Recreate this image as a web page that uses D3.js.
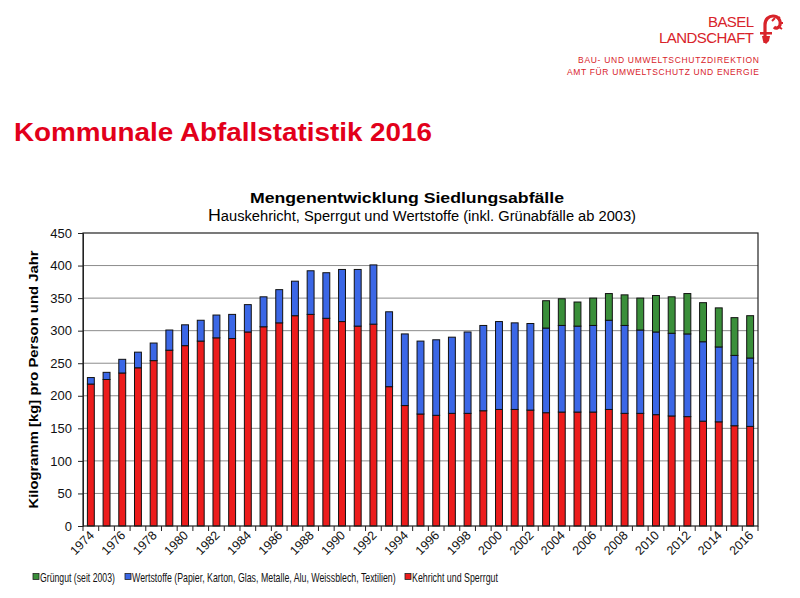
<!DOCTYPE html>
<html>
<head>
<meta charset="utf-8">
<script src="https://cdn.jsdelivr.net/npm/d3@7"></script>
<style>
  body { margin: 0; background: #fff; }
  svg { display: block; font-family: Arial, "Liberation Sans", sans-serif; }
</style>
</head>
<body>
<div id="chart"></div>
<script>
// values (kg per person and year)
var years = d3.range(1974, 2017);
var kehricht = [218, 225, 235, 243, 254, 270, 277, 284, 289, 288, 298, 306, 312, 323, 325, 319, 314, 307, 310, 214,
                185, 172, 170, 173, 173, 177, 179, 179, 178, 174, 175, 175, 175, 179, 173, 173, 171, 169, 168, 161,
                160, 154, 153];
var wertstoffe = [10, 11, 21, 24, 27, 31, 32, 32, 35, 37, 42, 46, 51, 53, 67, 70, 80, 87, 91, 115,
                  110, 112, 116, 117, 125, 131, 135, 133, 133, 130, 133, 132, 133, 137, 135, 128, 127, 127, 127, 122,
                  115, 108, 105];
var gruengut = [0, 0, 0, 0, 0, 0, 0, 0, 0, 0, 0, 0, 0, 0, 0, 0, 0, 0, 0, 0,
                0, 0, 0, 0, 0, 0, 0, 0, 0, 42, 41, 37, 42, 41, 47, 49, 56, 56, 62, 60,
                60, 58, 65];
var yTicks = [0, 50, 100, 150, 200, 250, 300, 350, 400, 450];
var seriesKeys = ["kehricht", "wertstoffe", "gruengut"];
var seriesColors = {kehricht: "#ec1c1c", wertstoffe: "#3b67e6", gruengut: "#3a8f3a"};
var legendItems = [
  {key: "gruengut", label: "Grüngut (seit 2003)", x: 33, w: 75},
  {key: "wertstoffe", label: "Wertstoffe (Papier, Karton, Glas, Metalle, Alu, Weissblech, Textilien)", x: 125, w: 264},
  {key: "kehricht", label: "Kehricht und Sperrgut", x: 405, w: 86}
];

var table = years.map(function(y, i) {
  return {year: y, kehricht: kehricht[i], wertstoffe: wertstoffe[i], gruengut: gruengut[i]};
});

var width = 800, height = 598;
var plot = {left: 83, right: 758, top: 233, bottom: 526};
var red = "#e2001a";

var svg = d3.select("#chart").append("svg")
  .attr("width", width)
  .attr("height", height);

// ---- header / logo
var logo = svg.append("g").attr("fill", "#d8232a");
logo.append("text").attr("x", 754).attr("y", 27).attr("text-anchor", "end")
  .attr("font-size", 15).attr("textLength", 46).text("BASEL");
logo.append("text").attr("x", 754).attr("y", 43).attr("text-anchor", "end")
  .attr("font-size", 15).attr("textLength", 95).text("LANDSCHAFT");
logo.append("text").attr("x", 759).attr("y", 63).attr("text-anchor", "end")
  .attr("font-size", 8.5).attr("textLength", 181).text("BAU- UND UMWELTSCHUTZDIREKTION");
logo.append("text").attr("x", 759).attr("y", 75).attr("text-anchor", "end")
  .attr("font-size", 8.5).attr("textLength", 192).text("AMT FÜR UMWELTSCHUTZ UND ENERGIE");

// the staff
var staff = svg.append("g").attr("transform", "translate(760,15)");
staff.append("path")
  .attr("d", "M5,28 L5,10 C5,4 9,1 13,1 C18,1 21,5 20,10 C19,13 16,14 14,12")
  .attr("fill", "none").attr("stroke", "#d8232a").attr("stroke-width", 3.2);
staff.append("path")
  .attr("d", "M12,6 l3,-3 M17,4 l3,-2 M20,8 l3,0 M19,12 l3,2")
  .attr("stroke", "#d8232a").attr("stroke-width", 2);
staff.append("rect").attr("x", 0).attr("y", 17).attr("width", 12).attr("height", 2.5).attr("fill", "#d8232a");
staff.append("path").attr("d", "M2,21 L10,21 L9,26 L6,29 L3,26 Z").attr("fill", "#d8232a");

svg.append("text")
  .attr("x", 14).attr("y", 141)
  .attr("font-size", 26).attr("font-weight", "bold")
  .attr("fill", red).attr("textLength", 418).attr("lengthAdjust", "spacingAndGlyphs")
  .text("Kommunale Abfallstatistik 2016");

// ---- chart titles
svg.append("text")
  .attr("x", 407).attr("y", 203).attr("text-anchor", "middle")
  .attr("font-size", 15).attr("font-weight", "bold")
  .attr("textLength", 314).attr("lengthAdjust", "spacingAndGlyphs")
  .text("Mengenentwicklung  Siedlungsabfälle");
var sub = svg.append("text")
  .attr("x", 422).attr("y", 221).attr("text-anchor", "middle")
  .attr("font-size", 14)
  .attr("textLength", 428).attr("lengthAdjust", "spacingAndGlyphs");
sub.append("tspan").attr("font-size", 17).text("H");
sub.append("tspan").text("auskehricht, Sperrgut und Wertstoffe (inkl. Grünabfälle ab 2003)");

// ---- scales
var x = d3.scaleBand()
  .domain(years)
  .range([plot.left, plot.right])
  .paddingInner(0.56)
  .paddingOuter(0.28);
var y = d3.scaleLinear().domain([0, 450]).range([plot.bottom, plot.top]);

// gridlines
svg.append("g").selectAll("line")
  .data(yTicks.filter(function(d) { return d > 0 && d < 450; }))
  .join("line")
  .attr("x1", plot.left).attr("x2", plot.right)
  .attr("y1", function(d) { return y(d); }).attr("y2", function(d) { return y(d); })
  .attr("stroke", "#8c8c8c").attr("stroke-width", 1);

// bars
var stacked = d3.stack().keys(seriesKeys)(table);
svg.append("g").selectAll("g")
  .data(stacked)
  .join("g")
  .attr("fill", function(d) { return seriesColors[d.key]; })
  .selectAll("rect")
  .data(function(d) { return d.filter(function(p) { return p[1] > p[0]; }); })
  .join("rect")
  .attr("x", function(d) { return x(d.data.year); })
  .attr("width", x.bandwidth())
  .attr("y", function(d) { return y(d[1]); })
  .attr("height", function(d) { return y(d[0]) - y(d[1]); })
  .attr("stroke", "#111")
  .attr("stroke-width", 1);

// frame
svg.append("rect")
  .attr("x", plot.left).attr("y", plot.top)
  .attr("width", plot.right - plot.left).attr("height", plot.bottom - plot.top)
  .attr("fill", "none").attr("stroke", "#222").attr("stroke-width", 1.2);

// y axis
var yAxis = svg.append("g")
  .attr("transform", "translate(" + plot.left + ",0)")
  .call(d3.axisLeft(y).tickValues(yTicks).tickSize(5).tickPadding(6));
yAxis.select(".domain").attr("stroke", "#222");
yAxis.selectAll(".tick line").attr("stroke", "#222");
yAxis.selectAll("text").attr("font-size", 13).attr("font-family", "Arial, 'Liberation Sans', sans-serif").attr("fill", "#111");

svg.append("text")
  .attr("transform", "translate(38," + ((plot.top + plot.bottom) / 2) + ") rotate(-90)")
  .attr("text-anchor", "middle")
  .attr("font-size", 13.5).attr("font-weight", "bold")
  .attr("textLength", 258).attr("lengthAdjust", "spacingAndGlyphs")
  .text("Kilogramm [kg] pro Person und Jahr");

// x axis: ticks at category boundaries, labels every second year
var step = x.step();
var boundaries = d3.range(0, years.length + 1).map(function(i) { return plot.left + i * step; });
svg.append("g").selectAll("line")
  .data(boundaries)
  .join("line")
  .attr("x1", function(d) { return d; }).attr("x2", function(d) { return d; })
  .attr("y1", plot.bottom).attr("y2", plot.bottom + 5)
  .attr("stroke", "#222");

svg.append("g").selectAll("text")
  .data(years.filter(function(d) { return d % 2 === 0; }))
  .join("text")
  .attr("transform", function(d) {
    return "translate(" + (x(d) + x.bandwidth() / 2 + 4) + "," + (plot.bottom + 10) + ") rotate(-45)";
  })
  .attr("text-anchor", "end")
  .attr("font-size", 12.5)
  .attr("fill", "#111")
  .text(function(d) { return d; });

// legend (narrow look: squeeze each label horizontally to its width in the picture)
var legend = svg.append("g").attr("transform", "translate(0,577)");
var li = legend.selectAll("g").data(legendItems).join("g")
  .attr("transform", function(d) { return "translate(" + d.x + ",0)"; });
li.append("rect")
  .attr("x", 0).attr("y", -3.5).attr("width", 6).attr("height", 6)
  .attr("fill", function(d) { return seriesColors[d.key]; })
  .attr("stroke", "#222").attr("stroke-width", 0.8);
li.append("text")
  .attr("font-size", 13)
  .attr("fill", "#111")
  .text(function(d) { return d.label; })
  .attr("transform", function(d) {
    var natural = this.getComputedTextLength();
    return "translate(7,4.5) scale(" + (d.w / natural) + ",1)";
  });
</script>
</body>
</html>
